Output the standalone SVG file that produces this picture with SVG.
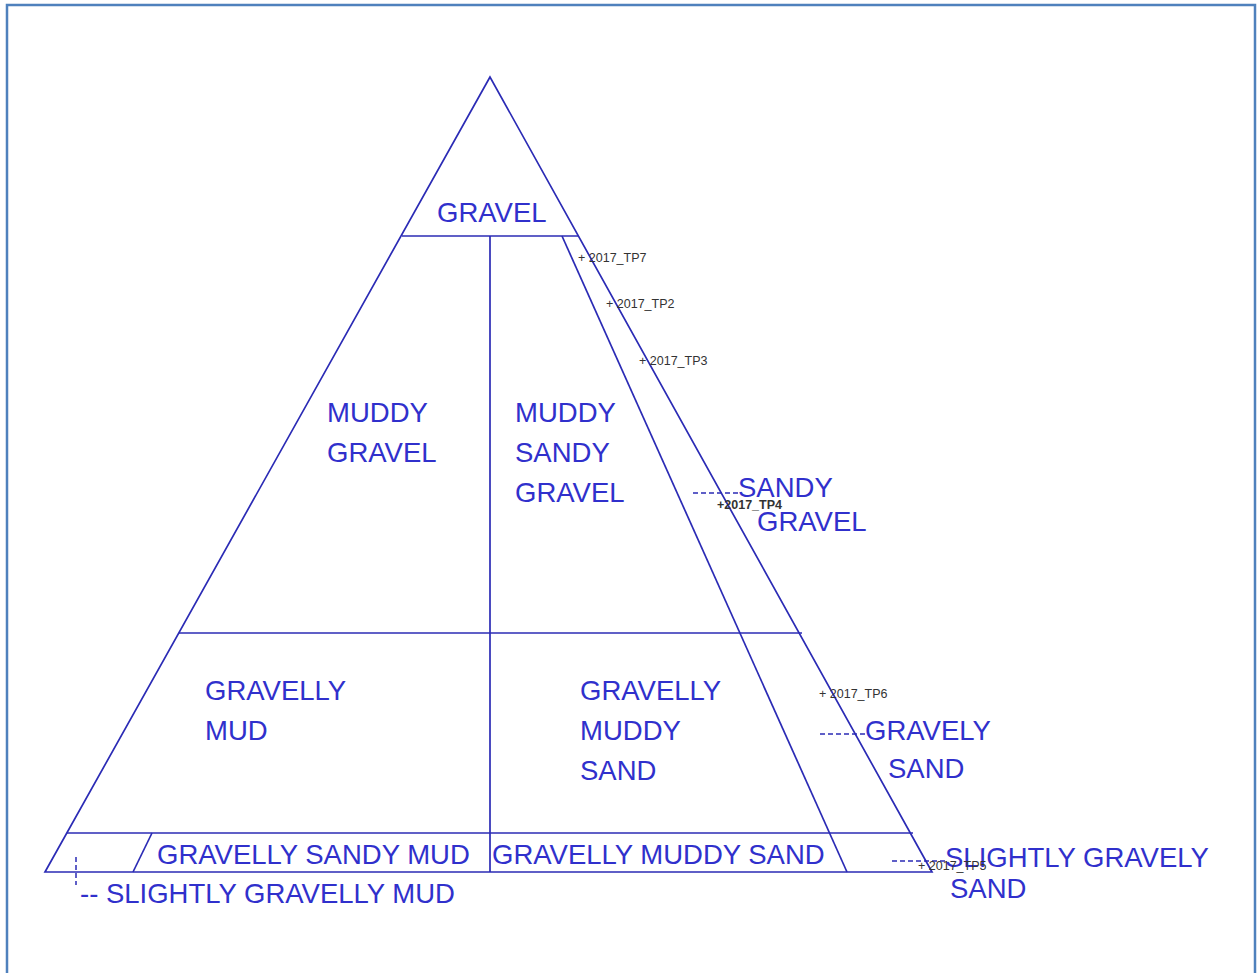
<svg xmlns="http://www.w3.org/2000/svg" width="1257" height="973" viewBox="0 0 1257 973">
<style>
.ln{stroke:#2b2bb5;stroke-width:1.7;fill:none}
.dash{stroke:#2b2bb5;stroke-width:1.5;stroke-dasharray:5 3;fill:none}
.lbl{font-family:"Liberation Sans",Arial,sans-serif;font-size:27.5px;fill:#3030cc}
.tp{font-family:"Liberation Sans",Arial,sans-serif;font-size:12.5px;fill:#333}
</style>
<rect width="1257" height="973" fill="#fff"/>
<path d="M7,980 V5 H1255 V980" fill="none" stroke="#4f81bd" stroke-width="2.5"/>
<g id="connectors">
<path class="ln" d="M490,77 L45,872 L932,872 Z"/>
<line class="ln" x1="402" y1="236" x2="578" y2="236"/>
<line class="ln" x1="490" y1="236" x2="490" y2="872"/>
<line class="ln" x1="562" y1="236" x2="847" y2="872"/>
<line class="ln" x1="179" y1="633" x2="802" y2="633"/>
<line class="ln" x1="67" y1="833" x2="913" y2="833"/>
<line class="ln" x1="152" y1="833" x2="133" y2="872"/>
<line class="dash" x1="76" y1="857" x2="76" y2="885"/>
<line class="dash" x1="693" y1="493" x2="738" y2="493"/>
<line class="dash" x1="820" y1="734" x2="865" y2="734"/>
<line class="dash" x1="892" y1="861" x2="945" y2="861"/>
</g>
<g id="gravel"><text class="lbl" x="437" y="222">GRAVEL</text></g>
<g id="muddy-gravel"><text class="lbl" x="327" y="422">MUDDY</text><text class="lbl" x="327" y="462">GRAVEL</text></g>
<g id="muddy-sandy-gravel"><text class="lbl" x="515" y="422">MUDDY</text><text class="lbl" x="515" y="462">SANDY</text><text class="lbl" x="515" y="502">GRAVEL</text></g>
<g id="sandy-gravel"><text class="lbl" x="738" y="497">SANDY</text><text class="lbl" x="757" y="531">GRAVEL</text></g>
<g id="gravelly-mud"><text class="lbl" x="205" y="700">GRAVELLY</text><text class="lbl" x="205" y="740">MUD</text></g>
<g id="gravelly-muddy-sand"><text class="lbl" x="580" y="700">GRAVELLY</text><text class="lbl" x="580" y="740">MUDDY</text><text class="lbl" x="580" y="780">SAND</text></g>
<g id="gravely-sand"><text class="lbl" x="865" y="740">GRAVELY</text><text class="lbl" x="888" y="778">SAND</text></g>
<g id="gravelly-sandy-mud"><text class="lbl" x="157" y="864">GRAVELLY SANDY MUD</text></g>
<g id="gravelly-muddy-sand-row"><text class="lbl" x="492" y="864">GRAVELLY MUDDY SAND</text></g>
<g id="slightly-gravelly-mud"><text class="lbl" x="80" y="903">-- SLIGHTLY GRAVELLY MUD</text></g>
<g id="slightly-gravely-sand"><text class="lbl" x="945" y="867">SLIGHTLY GRAVELY</text><text class="lbl" x="950" y="898">SAND</text></g>
<g id="tp7"><text class="tp" x="578" y="262">+ 2017_TP7</text></g>
<g id="tp2"><text class="tp" x="606" y="308">+ 2017_TP2</text></g>
<g id="tp3"><text class="tp" x="639" y="365">+ 2017_TP3</text></g>
<g id="tp4"><text class="tp" x="717" y="509" font-weight="bold">+2017_TP4</text></g>
<g id="tp6"><text class="tp" x="819" y="698">+ 2017_TP6</text></g>
<g id="tp5"><text class="tp" x="918" y="870">+ 2017_TP5</text></g>
</svg>
